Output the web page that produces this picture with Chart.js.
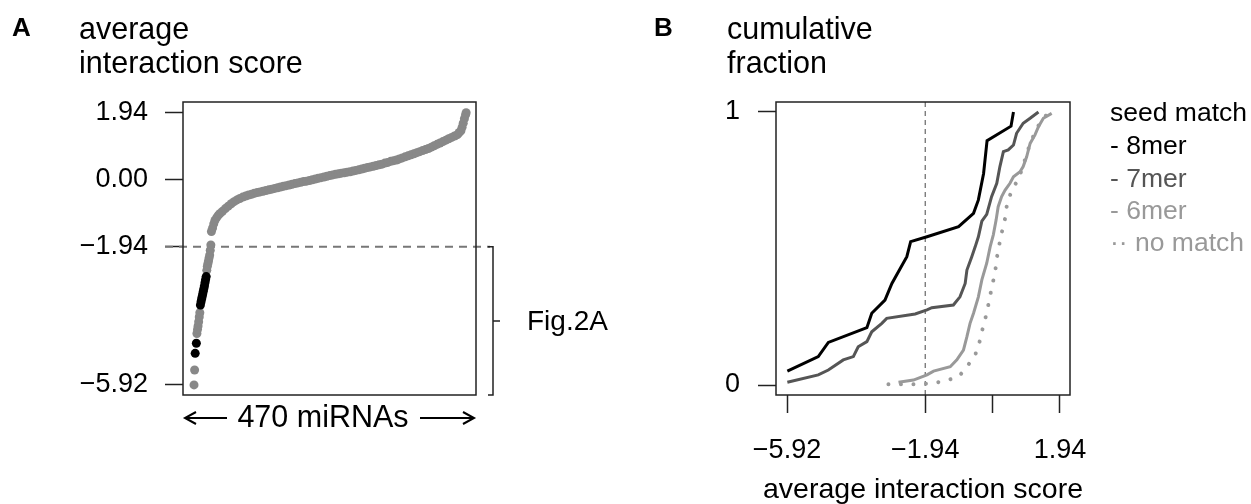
<!DOCTYPE html>
<html><head><meta charset="utf-8">
<script src="https://cdn.jsdelivr.net/npm/chart.js@4.4.1/dist/chart.umd.min.js"></script>
<style>
html,body{margin:0;padding:0;background:#fff;width:1251px;height:504px;overflow:hidden;}
canvas{position:absolute;top:0;}
#ca{left:0;} #cb{left:640px;}
</style></head><body>
<canvas id="ca" width="640" height="504"></canvas>
<canvas id="cb" width="611" height="504"></canvas>
<script>
// ---------- Panel A data: ranked average interaction scores (470 miRNAs) ----------
const rankCount = 470;
const blackRanks  = [3, 5, 12, 13, 14, 15, 16, 17, 18, 19, 20, 21, 22];
const blackScores = [-5.01, -4.72, -3.62, -3.53, -3.45, -3.38, -3.30, -3.22, -3.14, -3.06, -2.97, -2.88, -2.80];
const grayRanks  = [1, 2, 6, 7, 8, 9, 10, 11, 23, 24, 25, 26, 27, 28, 29, 30,
  31, 33, 35, 37, 40, 43, 46, 50, 55, 60, 65, 70, 75, 80, 85, 90, 95, 100, 105, 110, 115, 120, 125, 130,
  135, 140, 145, 150, 155, 160, 165, 170, 175, 180, 185, 190, 195, 200, 205, 210, 215, 220, 225, 230,
  235, 240, 245, 250, 255, 260, 265, 270, 275, 280, 285, 290, 295, 300, 305, 310, 315, 320, 325, 330,
  335, 340, 345, 350, 355, 360, 365, 370, 375, 380, 385, 390, 395, 400, 405, 410, 415, 420, 425, 430,
  435, 440, 445, 450, 455, 458, 461, 463, 465, 467, 469, 470];
const grayScores = [-5.92, -5.49, -4.44, -4.32, -4.22, -4.10, -3.96, -3.84, -2.62, -2.50, -2.42, -2.34, -2.26, -2.18, -2.04, -1.89,
  -1.50, -1.40, -1.28, -1.18, -1.10, -1.03, -0.98, -0.92, -0.84, -0.77, -0.70, -0.64, -0.59, -0.55, -0.51, -0.48, -0.45, -0.43, -0.40, -0.38, -0.36, -0.34, -0.32, -0.30,
  -0.28, -0.26, -0.24, -0.22, -0.20, -0.18, -0.16, -0.14, -0.12, -0.10, -0.08, -0.06, -0.05, -0.03, -0.01, 0.01, 0.03, 0.05, 0.07, 0.09,
  0.11, 0.13, 0.15, 0.16, 0.18, 0.19, 0.21, 0.22, 0.24, 0.26, 0.28, 0.30, 0.32, 0.34, 0.36, 0.38, 0.40, 0.42, 0.44, 0.47,
  0.49, 0.52, 0.54, 0.56, 0.59, 0.62, 0.65, 0.68, 0.71, 0.74, 0.77, 0.80, 0.83, 0.86, 0.89, 0.93, 0.97, 1.01, 1.05, 1.09,
  1.13, 1.17, 1.21, 1.25, 1.29, 1.35, 1.40, 1.50, 1.62, 1.75, 1.86, 1.92];
const yTicksA = [1.94, 0.00, -1.94, -5.92];
const thresholdA = -1.94;

// ---------- Panel B data: cumulative fraction by seed match ----------
const seriesNames = ['8mer', '7mer', '6mer', 'no match'];
const x8mer = [-5.91, -5.02, -4.73, -3.62, -3.48, -3.10, -2.90, -2.66, -2.47, -2.36, -1.89, -0.98, -0.55, -0.41, -0.26, -0.16, 0.53, 0.60];
const y8mer = [0.051, 0.104, 0.156, 0.21, 0.263, 0.311, 0.372, 0.427, 0.47, 0.525, 0.543, 0.58, 0.629, 0.678, 0.775, 0.895, 0.948, 1.0];
const x7mer = [-5.91, -5.02, -4.73, -4.30, -4.01, -3.87, -3.62, -3.48, -3.19, -3.05, -2.23, -1.89, -1.75, -1.13, -0.94, -0.79, -0.74, -0.60, -0.50, -0.41, -0.31, -0.17, -0.03, 0.12, 0.21, 0.31, 0.45, 0.60, 0.69, 0.88, 1.08, 1.32];
const y7mer = [0.01, 0.037, 0.055, 0.092, 0.104, 0.14, 0.159, 0.195, 0.226, 0.244, 0.26, 0.275, 0.283, 0.293, 0.323, 0.372, 0.421, 0.47, 0.507, 0.543, 0.60, 0.625, 0.69, 0.739, 0.80, 0.855, 0.861, 0.879, 0.922, 0.959, 0.977, 1.0];
const x6mer = [-2.71, -2.28, -1.89, -1.70, -1.22, -1.03, -0.84, -0.74, -0.65, -0.55, -0.41, -0.31, -0.17, -0.07, 0.02, 0.10, 0.16, 0.26, 0.36, 0.50, 0.60, 0.79, 0.88, 0.98, 1.08, 1.22, 1.32, 1.46, 1.70];
const y6mer = [0.01, 0.018, 0.037, 0.051, 0.067, 0.092, 0.128, 0.177, 0.226, 0.263, 0.323, 0.385, 0.446, 0.507, 0.55, 0.604, 0.653, 0.69, 0.714, 0.739, 0.763, 0.781, 0.80, 0.836, 0.885, 0.916, 0.946, 0.977, 0.995];
const xNone = [-3.00, -2.14, -1.75, -1.37, -0.98, -0.74, -0.50, -0.36, -0.28, -0.17, -0.10, -0.02, 0.07, 0.12, 0.19, 0.27, 0.36, 0.41, 0.55, 0.70, 0.85, 1.00, 1.15, 1.27, 1.50, 1.85];
const yNone = [0.003, 0.003, 0.006, 0.015, 0.03, 0.067, 0.11, 0.165, 0.211, 0.263, 0.309, 0.36, 0.411, 0.464, 0.513, 0.562, 0.611, 0.659, 0.714, 0.745, 0.79, 0.855, 0.905, 0.94, 0.985, 0.999];
const xTicksB = [-5.92, -1.94, 0, 1.94];
const xTickLabelsB = ['\u22125.92', '\u22121.94', '', '1.94'];
const yTicksB = [0, 1];
const thresholdB = -1.94;
const xTitleB = 'average interaction score';

// ---------- styling ----------
const FONT = "'Liberation Sans', Arial, Helvetica, sans-serif";
const TITLE_SIZE = 30.5;
const pts = (xs, ys) => xs.map((v, i) => ({x: v, y: ys[i]}));
const fmtA = v => (v < 0 ? '\u2212' : '') + Math.abs(v).toFixed(2);

function arrow(ctx, x1, x2, y) {
  const d = x2 > x1 ? 1 : -1;
  ctx.beginPath();
  ctx.moveTo(x1, y); ctx.lineTo(x2, y);
  ctx.moveTo(x2 - d * 11, y - 6); ctx.lineTo(x2, y); ctx.lineTo(x2 - d * 11, y + 6);
  ctx.stroke();
}

const panelA = {
  id: 'panelA',
  beforeDatasetsDraw(chart) {
    const {ctx, chartArea: ca, scales: {y}} = chart;
    const yy = y.getPixelForValue(thresholdA);
    ctx.save();
    ctx.strokeStyle = '#777'; ctx.lineWidth = 2; ctx.setLineDash([8, 6]);
    ctx.beginPath(); ctx.moveTo(ca.left - 18, yy); ctx.lineTo(ca.right + 14, yy); ctx.stroke();
    ctx.restore();
  },
  afterDraw(chart) {
    const {ctx, chartArea: ca, scales: {y}} = chart;
    ctx.save();
    ctx.strokeStyle = '#222'; ctx.lineWidth = 1.5;
    ctx.strokeRect(ca.left, ca.top, ca.right - ca.left, ca.bottom - ca.top);
    const yTop = y.getPixelForValue(thresholdA), yBot = ca.bottom, bx = ca.right + 17;
    ctx.beginPath();
    ctx.moveTo(bx - 5, yTop); ctx.lineTo(bx, yTop); ctx.lineTo(bx, yBot); ctx.lineTo(bx - 5, yBot);
    const ym = (yTop + yBot) / 2;
    ctx.moveTo(bx, ym); ctx.lineTo(bx + 7, ym);
    ctx.stroke();
    ctx.fillStyle = '#000';
    ctx.font = `28px ${FONT}`; ctx.textBaseline = 'middle'; ctx.textAlign = 'left';
    ctx.fillText('Fig.2A', bx + 34, ym + 1);
    // 470 miRNAs with arrows
    ctx.font = `${TITLE_SIZE}px ${FONT}`;
    ctx.textAlign = 'center';
    ctx.fillText(rankCount + ' miRNAs', 323, 419);
    ctx.strokeStyle = '#000'; ctx.lineWidth = 2;
    arrow(ctx, 227, 185, 418);
    arrow(ctx, 420, 474, 418);
    // titles
    ctx.textAlign = 'left'; ctx.textBaseline = 'alphabetic';
    ctx.font = `bold 26px ${FONT}`;
    ctx.fillText('A', 12, 36);
    ctx.font = `${TITLE_SIZE}px ${FONT}`;
    ctx.fillText('average', 79, 39);
    ctx.fillText('interaction score', 79, 73);
    ctx.restore();
  }
};

const panelB = {
  id: 'panelB',
  beforeDatasetsDraw(chart) {
    const {ctx, chartArea: ca, scales: {x}} = chart;
    const xx = x.getPixelForValue(thresholdB);
    ctx.save();
    ctx.strokeStyle = '#666'; ctx.lineWidth = 1.2; ctx.setLineDash([5, 4]);
    ctx.beginPath(); ctx.moveTo(xx, ca.top); ctx.lineTo(xx, ca.bottom); ctx.stroke();
    ctx.restore();
  },
  afterDraw(chart) {
    const {ctx, chartArea: ca} = chart;
    ctx.save();
    ctx.strokeStyle = '#222'; ctx.lineWidth = 1.5;
    ctx.strokeRect(ca.left, ca.top, ca.right - ca.left, ca.bottom - ca.top);
    ctx.fillStyle = '#000'; ctx.textAlign = 'left'; ctx.textBaseline = 'alphabetic';
    ctx.font = `bold 26px ${FONT}`;
    ctx.fillText('B', 14, 36);
    ctx.font = `${TITLE_SIZE}px ${FONT}`;
    ctx.fillText('cumulative', 87, 39);
    ctx.fillText('fraction', 87, 73);
    // x axis title
    ctx.font = `28.5px ${FONT}`;
    ctx.textAlign = 'center'; ctx.textBaseline = 'middle';
    ctx.fillText(xTitleB, (ca.left + ca.right) / 2 - 0, 490);
    // legend
    ctx.textAlign = 'left'; ctx.textBaseline = 'alphabetic';
    ctx.font = `26.5px ${FONT}`;
    const lx = 470;
    ctx.fillStyle = '#000'; ctx.fillText('seed match', lx, 121);
    const cols = ['#000', '#555', '#999', '#999'];
    const marks = ['- ', '- ', '- ', '\u00b7\u00b7 '];
    const base = [154, 186.5, 218.5, 250.5];
    seriesNames.forEach((n, i) => { ctx.fillStyle = cols[i]; ctx.fillText(marks[i] + n, lx, base[i]); });
    ctx.restore();
  }
};

new Chart(document.getElementById('ca'), {
  type: 'scatter',
  data: { datasets: [
    { data: pts(blackRanks, blackScores), backgroundColor: '#000', pointRadius: 4.5, pointBorderWidth: 0, pointHoverRadius: 4.5, clip: false },
    { data: pts(grayRanks, grayScores), backgroundColor: '#888', pointRadius: 4.5, pointBorderWidth: 0, pointHoverRadius: 4.5, clip: false }
  ]},
  options: {
    responsive: false, animation: false, devicePixelRatio: 1, events: [],
    layout: { padding: { left: 63, right: 164, top: 102, bottom: 109 } },
    plugins: { legend: { display: false }, tooltip: { enabled: false } },
    scales: {
      x: { type: 'linear', min: -18, max: 487, display: false },
      y: {
        type: 'linear', min: -6.21, max: 2.23,
        afterFit: s => { s.width = 120; },
        afterBuildTicks: s => { s.ticks = yTicksA.map(v => ({ value: v })); },
        ticks: { callback: v => fmtA(v), font: { family: FONT, size: 27 }, color: '#000', padding: 17, autoSkip: false },
        grid: { drawOnChartArea: false, drawTicks: true, tickLength: 18, tickColor: '#222', tickWidth: 1.5 },
        border: { display: false }
      }
    }
  },
  plugins: [panelA]
});

new Chart(document.getElementById('cb'), {
  type: 'line',
  data: { datasets: [
    { data: pts(x8mer, y8mer), borderColor: '#000', borderWidth: 3, pointRadius: 0, tension: 0, fill: false },
    { data: pts(x7mer, y7mer), borderColor: '#555', borderWidth: 3, pointRadius: 0, tension: 0, fill: false },
    { data: pts(x6mer, y6mer), borderColor: '#999', borderWidth: 3, pointRadius: 0, tension: 0, fill: false },
    { data: pts(xNone, yNone), borderColor: '#999', borderWidth: 4, borderDash: [0.01, 12.5], borderCapStyle: 'round', pointRadius: 0, tension: 0, fill: false }
  ]},
  options: {
    responsive: false, animation: false, devicePixelRatio: 1, events: [],
    layout: { padding: { left: 36, right: 181, top: 102, bottom: 0 } },
    plugins: { legend: { display: false }, tooltip: { enabled: false } },
    scales: {
      x: {
        type: 'linear', min: -6.237, max: 2.228,
        afterFit: s => { s.height = 109; },
        afterBuildTicks: s => { s.ticks = xTicksB.map(v => ({ value: v })); },
        ticks: { callback: (v, i) => xTickLabelsB[i], font: { family: FONT, size: 27 }, color: '#000', padding: 21, autoSkip: false, maxRotation: 0, minRotation: 0 },
        grid: { drawOnChartArea: false, drawTicks: true, tickLength: 18, tickColor: '#222', tickWidth: 1.5 },
        border: { display: false }
      },
      y: {
        type: 'linear', min: -0.0366, max: 1.0366,
        afterFit: s => { s.width = 100; },
        afterBuildTicks: s => { s.ticks = yTicksB.map(v => ({ value: v })); },
        ticks: { callback: v => String(v), font: { family: FONT, size: 27 }, color: '#000', padding: 18, autoSkip: false },
        grid: { drawOnChartArea: false, drawTicks: true, tickLength: 18, tickColor: '#222', tickWidth: 1.5 },
        border: { display: false }
      }
    }
  },
  plugins: [panelB]
});
</script></body></html>
